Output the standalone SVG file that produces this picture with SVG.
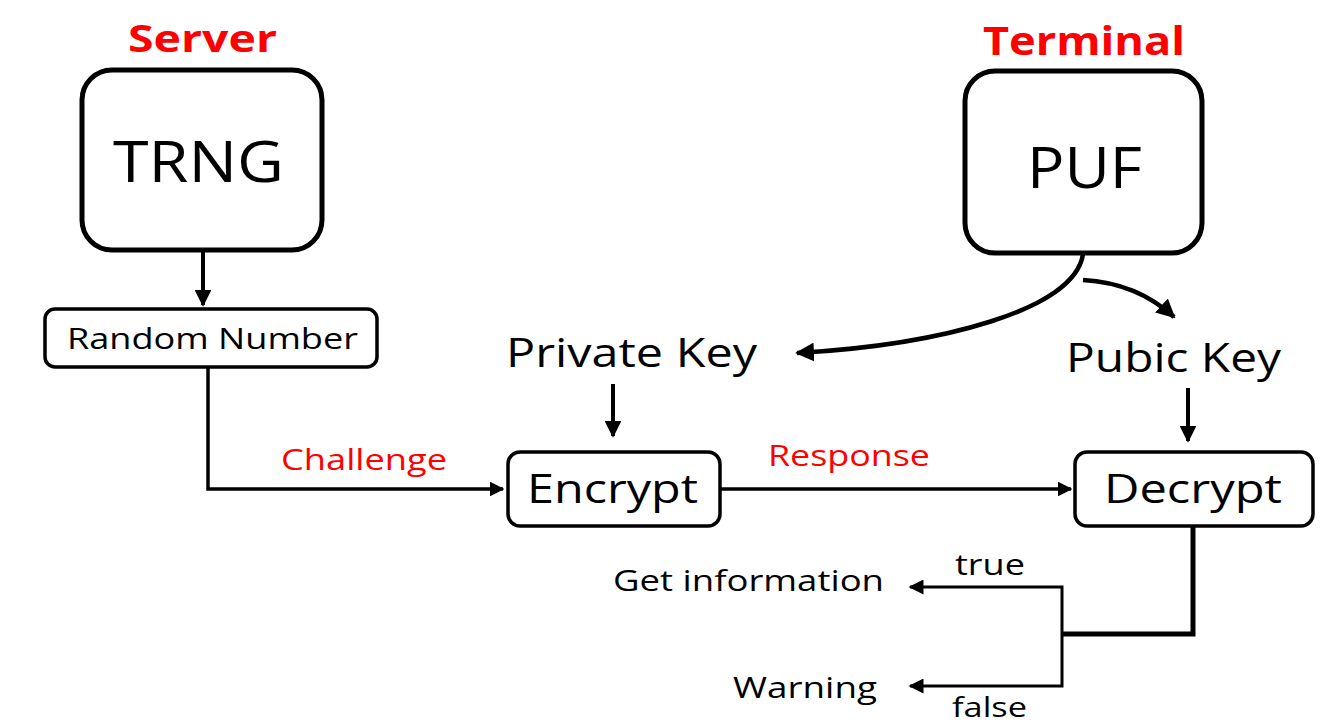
<svg xmlns="http://www.w3.org/2000/svg" width="1330" height="727" viewBox="0 0 1330 727">
<style>
text{font-family:"Open Sans","Noto Sans","DejaVu Sans",sans-serif;fill:#000}
.red{fill:#ff0000}
.bold{font-weight:bold}
.box{fill:#fff;stroke:#000}
.ln{fill:none;stroke:#000}
</style>
<defs>
<marker id="ah" viewBox="0 0 10 10" refX="9" refY="5" markerWidth="4.2" markerHeight="4.2" orient="auto" markerUnits="strokeWidth">
<path d="M0,0 L10,5 L0,10 z" fill="#000"/>
</marker>
<marker id="ahs" viewBox="0 0 10 10" refX="9" refY="5" markerWidth="6" markerHeight="5" orient="auto" markerUnits="strokeWidth">
<path d="M0,0 L10,5 L0,10 z" fill="#000"/>
</marker>
</defs>
<rect width="1330" height="727" fill="#fff"/>
<g id="labels">
<text class="red bold" x="128" y="52" font-size="38" textLength="149" lengthAdjust="spacingAndGlyphs">Server</text>
<text class="red bold" x="983" y="55" font-size="40" textLength="202" lengthAdjust="spacingAndGlyphs">Terminal</text>
</g>
<g id="connectors">
<line class="ln" x1="203" y1="250" x2="203" y2="305" stroke-width="4" marker-end="url(#ah)"/>
<polyline class="ln" points="208,367 208,489 503,489" stroke-width="3.5" marker-end="url(#ah)"/>
<line class="ln" x1="613" y1="384" x2="613" y2="436" stroke-width="4" marker-end="url(#ah)"/>
<line class="ln" x1="720" y1="489" x2="1071" y2="489" stroke-width="3.5" marker-end="url(#ah)"/>
<line class="ln" x1="1188" y1="388" x2="1188" y2="441" stroke-width="4" marker-end="url(#ah)"/>
<path class="ln" d="M1083,254 C1075,310 940,345 797,353" stroke-width="4.5" marker-end="url(#ah)"/>
<path class="ln" d="M1083,280 C1120,282 1150,295 1174,317" stroke-width="4.5" marker-end="url(#ah)"/>
<polyline class="ln" points="1193,526 1193,634 1062,634" stroke-width="5"/>
<polyline class="ln" points="1062,634 1062,587 910,587" stroke-width="3" marker-end="url(#ahs)"/>
<polyline class="ln" points="1062,634 1062,686 910,686" stroke-width="3" marker-end="url(#ahs)"/>
<text class="red" x="281" y="470" font-size="30" textLength="166" lengthAdjust="spacingAndGlyphs">Challenge</text>
<text class="red" x="768" y="466" font-size="30" textLength="162" lengthAdjust="spacingAndGlyphs">Response</text>
<text x="955" y="575" font-size="29" textLength="70" lengthAdjust="spacingAndGlyphs">true</text>
<text x="952" y="717" font-size="28" textLength="75" lengthAdjust="spacingAndGlyphs">false</text>
</g>
<g id="trng">
<rect class="box" x="82" y="70" width="240" height="180" rx="30" stroke-width="5"/>
<text x="113" y="182" font-size="57" textLength="171" lengthAdjust="spacingAndGlyphs">TRNG</text>
</g>
<g id="random-number">
<rect class="box" x="45" y="309" width="332" height="58" rx="10" stroke-width="3.5"/>
<text x="67" y="349" font-size="29" textLength="291" lengthAdjust="spacingAndGlyphs">Random Number</text>
</g>
<g id="puf">
<rect class="box" x="965" y="71" width="237" height="182" rx="30" stroke-width="5"/>
<text x="1027" y="188" font-size="57" textLength="115" lengthAdjust="spacingAndGlyphs">PUF</text>
</g>
<g id="private-key">
<text x="506" y="367" font-size="41" textLength="251" lengthAdjust="spacingAndGlyphs">Private Key</text>
</g>
<g id="pubic-key">
<text x="1066" y="372" font-size="41" textLength="215" lengthAdjust="spacingAndGlyphs">Pubic Key</text>
</g>
<g id="encrypt">
<rect class="box" x="508" y="452" width="212" height="74" rx="12" stroke-width="3.5"/>
<text x="527" y="503" font-size="41" textLength="171" lengthAdjust="spacingAndGlyphs">Encrypt</text>
</g>
<g id="decrypt">
<rect class="box" x="1075" y="452" width="238" height="74" rx="12" stroke-width="3.5"/>
<text x="1104" y="503" font-size="41" textLength="178" lengthAdjust="spacingAndGlyphs">Decrypt</text>
</g>
<g id="get-information">
<text x="613" y="591" font-size="30" textLength="271" lengthAdjust="spacingAndGlyphs">Get information</text>
</g>
<g id="warning">
<text x="733" y="698" font-size="30" textLength="144" lengthAdjust="spacingAndGlyphs">Warning</text>
</g>
</svg>
